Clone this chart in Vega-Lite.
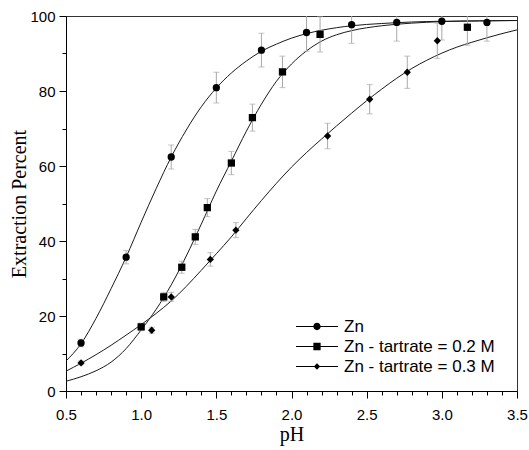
{
  "$schema": "https://vega.github.io/schema/vega-lite/v6.json",
  "width": 451,
  "height": 375,
  "autosize": {"type": "none"},
  "padding": {"left": 66, "top": 16, "right": 12, "bottom": 59},
  "background": "white",
  "config": {
    "view": {"stroke": "#333333", "strokeWidth": 1},
    "axis": {"grid": false, "domainColor": "black", "tickColor": "black", "domainWidth": 1, "tickWidth": 1,
      "labelFont": "Liberation Sans", "labelFontSize": 15, "labelColor": "black",
      "titleFont": "Liberation Serif", "titleFontSize": 20, "titleFontWeight": "normal", "titleColor": "black",
      "labelOverlap": false, "labelFlush": false}
  },
  "datasets": {
    "fit": [
      {"series": "Zn", "x": 0.5, "y": 8.0}, {"series": "Zn", "x": 0.6, "y": 12.6}, {"series": "Zn", "x": 0.7, "y": 19.4},
      {"series": "Zn", "x": 0.8, "y": 27.3}, {"series": "Zn", "x": 0.9, "y": 35.7}, {"series": "Zn", "x": 1.0, "y": 45.0},
      {"series": "Zn", "x": 1.1, "y": 54.0}, {"series": "Zn", "x": 1.2, "y": 62.4}, {"series": "Zn", "x": 1.3, "y": 69.6},
      {"series": "Zn", "x": 1.4, "y": 75.8}, {"series": "Zn", "x": 1.5, "y": 80.8}, {"series": "Zn", "x": 1.6, "y": 84.8},
      {"series": "Zn", "x": 1.7, "y": 88.0}, {"series": "Zn", "x": 1.8, "y": 90.6}, {"series": "Zn", "x": 1.9, "y": 92.5},
      {"series": "Zn", "x": 2.0, "y": 94.1}, {"series": "Zn", "x": 2.1, "y": 95.3}, {"series": "Zn", "x": 2.2, "y": 96.2},
      {"series": "Zn", "x": 2.4, "y": 97.4}, {"series": "Zn", "x": 2.6, "y": 98.0}, {"series": "Zn", "x": 2.8, "y": 98.4},
      {"series": "Zn", "x": 3.0, "y": 98.6}, {"series": "Zn", "x": 3.25, "y": 98.7}, {"series": "Zn", "x": 3.5, "y": 98.8},

      {"series": "Zn - tartrate = 0.2 M", "x": 0.5, "y": 2.6}, {"series": "Zn - tartrate = 0.2 M", "x": 0.6, "y": 3.8},
      {"series": "Zn - tartrate = 0.2 M", "x": 0.7, "y": 5.4}, {"series": "Zn - tartrate = 0.2 M", "x": 0.8, "y": 7.7},
      {"series": "Zn - tartrate = 0.2 M", "x": 0.9, "y": 11.3}, {"series": "Zn - tartrate = 0.2 M", "x": 1.0, "y": 16.3},
      {"series": "Zn - tartrate = 0.2 M", "x": 1.1, "y": 21.8}, {"series": "Zn - tartrate = 0.2 M", "x": 1.2, "y": 28.3},
      {"series": "Zn - tartrate = 0.2 M", "x": 1.3, "y": 36.0}, {"series": "Zn - tartrate = 0.2 M", "x": 1.4, "y": 44.5},
      {"series": "Zn - tartrate = 0.2 M", "x": 1.5, "y": 53.3}, {"series": "Zn - tartrate = 0.2 M", "x": 1.6, "y": 61.3},
      {"series": "Zn - tartrate = 0.2 M", "x": 1.7, "y": 69.3}, {"series": "Zn - tartrate = 0.2 M", "x": 1.8, "y": 76.5},
      {"series": "Zn - tartrate = 0.2 M", "x": 1.9, "y": 82.6}, {"series": "Zn - tartrate = 0.2 M", "x": 2.0, "y": 87.2},
      {"series": "Zn - tartrate = 0.2 M", "x": 2.1, "y": 90.7}, {"series": "Zn - tartrate = 0.2 M", "x": 2.2, "y": 93.3},
      {"series": "Zn - tartrate = 0.2 M", "x": 2.3, "y": 95.0}, {"series": "Zn - tartrate = 0.2 M", "x": 2.4, "y": 96.1},
      {"series": "Zn - tartrate = 0.2 M", "x": 2.6, "y": 97.4}, {"series": "Zn - tartrate = 0.2 M", "x": 2.8, "y": 98.1},
      {"series": "Zn - tartrate = 0.2 M", "x": 3.0, "y": 98.5}, {"series": "Zn - tartrate = 0.2 M", "x": 3.25, "y": 98.7},
      {"series": "Zn - tartrate = 0.2 M", "x": 3.5, "y": 98.8},

      {"series": "Zn - tartrate = 0.3 M", "x": 0.5, "y": 5.3}, {"series": "Zn - tartrate = 0.3 M", "x": 0.6, "y": 7.4},
      {"series": "Zn - tartrate = 0.3 M", "x": 0.7, "y": 9.7}, {"series": "Zn - tartrate = 0.3 M", "x": 0.8, "y": 12.2},
      {"series": "Zn - tartrate = 0.3 M", "x": 0.9, "y": 14.9}, {"series": "Zn - tartrate = 0.3 M", "x": 1.0, "y": 17.7},
      {"series": "Zn - tartrate = 0.3 M", "x": 1.1, "y": 20.7}, {"series": "Zn - tartrate = 0.3 M", "x": 1.2, "y": 24.0},
      {"series": "Zn - tartrate = 0.3 M", "x": 1.3, "y": 27.9}, {"series": "Zn - tartrate = 0.3 M", "x": 1.4, "y": 32.2},
      {"series": "Zn - tartrate = 0.3 M", "x": 1.5, "y": 36.6}, {"series": "Zn - tartrate = 0.3 M", "x": 1.6, "y": 41.1},
      {"series": "Zn - tartrate = 0.3 M", "x": 1.7, "y": 46.0}, {"series": "Zn - tartrate = 0.3 M", "x": 1.8, "y": 50.8},
      {"series": "Zn - tartrate = 0.3 M", "x": 1.9, "y": 55.4}, {"series": "Zn - tartrate = 0.3 M", "x": 2.0, "y": 59.7},
      {"series": "Zn - tartrate = 0.3 M", "x": 2.1, "y": 63.6}, {"series": "Zn - tartrate = 0.3 M", "x": 2.2, "y": 67.2},
      {"series": "Zn - tartrate = 0.3 M", "x": 2.3, "y": 70.7}, {"series": "Zn - tartrate = 0.3 M", "x": 2.4, "y": 74.1},
      {"series": "Zn - tartrate = 0.3 M", "x": 2.5, "y": 77.4}, {"series": "Zn - tartrate = 0.3 M", "x": 2.6, "y": 80.5},
      {"series": "Zn - tartrate = 0.3 M", "x": 2.7, "y": 83.4}, {"series": "Zn - tartrate = 0.3 M", "x": 2.8, "y": 86.0},
      {"series": "Zn - tartrate = 0.3 M", "x": 2.9, "y": 88.2}, {"series": "Zn - tartrate = 0.3 M", "x": 3.0, "y": 90.1},
      {"series": "Zn - tartrate = 0.3 M", "x": 3.1, "y": 91.7}, {"series": "Zn - tartrate = 0.3 M", "x": 3.2, "y": 93.0},
      {"series": "Zn - tartrate = 0.3 M", "x": 3.3, "y": 94.2}, {"series": "Zn - tartrate = 0.3 M", "x": 3.4, "y": 95.3},
      {"series": "Zn - tartrate = 0.3 M", "x": 3.5, "y": 96.3}
    ],
    "obs": [
      {"series": "Zn", "x": 0.6, "y": 12.8, "lo": 11.8, "hi": 13.8},
      {"series": "Zn", "x": 0.9, "y": 35.7, "lo": 33.9, "hi": 37.5},
      {"series": "Zn", "x": 1.2, "y": 62.4, "lo": 59.2, "hi": 65.6},
      {"series": "Zn", "x": 1.5, "y": 80.9, "lo": 76.8, "hi": 85.0},
      {"series": "Zn", "x": 1.8, "y": 90.9, "lo": 86.4, "hi": 95.4},
      {"series": "Zn", "x": 2.1, "y": 95.6, "lo": 90.6, "hi": 100.6},
      {"series": "Zn", "x": 2.4, "y": 97.7, "lo": 92.7, "hi": 102.7},
      {"series": "Zn", "x": 2.7, "y": 98.3, "lo": 93.3, "hi": 103.3},
      {"series": "Zn", "x": 3.0, "y": 98.6, "lo": 93.6, "hi": 103.6},
      {"series": "Zn", "x": 3.3, "y": 98.3, "lo": 93.3, "hi": 103.3},
      {"series": "Zn - tartrate = 0.2 M", "x": 1.0, "y": 17.1, "lo": 16.1, "hi": 18.1},
      {"series": "Zn - tartrate = 0.2 M", "x": 1.15, "y": 25.1, "lo": 23.9, "hi": 26.3},
      {"series": "Zn - tartrate = 0.2 M", "x": 1.27, "y": 33.0, "lo": 31.4, "hi": 34.6},
      {"series": "Zn - tartrate = 0.2 M", "x": 1.36, "y": 41.1, "lo": 39.1, "hi": 43.1},
      {"series": "Zn - tartrate = 0.2 M", "x": 1.44, "y": 48.9, "lo": 46.5, "hi": 51.3},
      {"series": "Zn - tartrate = 0.2 M", "x": 1.6, "y": 60.8, "lo": 57.7, "hi": 63.9},
      {"series": "Zn - tartrate = 0.2 M", "x": 1.74, "y": 72.9, "lo": 69.3, "hi": 76.5},
      {"series": "Zn - tartrate = 0.2 M", "x": 1.94, "y": 85.1, "lo": 80.9, "hi": 89.3},
      {"series": "Zn - tartrate = 0.2 M", "x": 2.19, "y": 95.1, "lo": 90.4, "hi": 99.8},
      {"series": "Zn - tartrate = 0.2 M", "x": 3.17, "y": 97.0, "lo": 92.2, "hi": 101.8},
      {"series": "Zn - tartrate = 0.3 M", "x": 0.6, "y": 7.5, "lo": 7.0, "hi": 8.0},
      {"series": "Zn - tartrate = 0.3 M", "x": 1.07, "y": 16.2, "lo": 15.4, "hi": 17.0},
      {"series": "Zn - tartrate = 0.3 M", "x": 1.2, "y": 25.1, "lo": 23.9, "hi": 26.3},
      {"series": "Zn - tartrate = 0.3 M", "x": 1.46, "y": 35.1, "lo": 33.3, "hi": 36.9},
      {"series": "Zn - tartrate = 0.3 M", "x": 1.63, "y": 42.9, "lo": 40.9, "hi": 44.9},
      {"series": "Zn - tartrate = 0.3 M", "x": 2.24, "y": 68.0, "lo": 64.6, "hi": 71.4},
      {"series": "Zn - tartrate = 0.3 M", "x": 2.52, "y": 77.8, "lo": 73.9, "hi": 81.7},
      {"series": "Zn - tartrate = 0.3 M", "x": 2.77, "y": 85.0, "lo": 80.7, "hi": 89.3},
      {"series": "Zn - tartrate = 0.3 M", "x": 2.97, "y": 93.4, "lo": 88.7, "hi": 98.1}
    ]
  },
  "layer": [
    {
      "data": {"values": []},
      "mark": {"type": "point", "opacity": 0},
      "encoding": {
        "x": {"field": "x", "type": "quantitative",
          "scale": {"domain": [0.5, 3.5], "nice": false, "zero": false},
          "axis": {"orient": "bottom", "title": null, "labels": false, "domain": false, "tickSize": 4,
            "values": [0.6, 0.7, 0.8, 0.9, 1.1, 1.2, 1.3, 1.4, 1.6, 1.7, 1.8, 1.9, 2.1, 2.2, 2.3, 2.4, 2.6, 2.7, 2.8, 2.9, 3.1, 3.2, 3.3, 3.4]}},
        "y": {"field": "y", "type": "quantitative",
          "scale": {"domain": [0, 100], "nice": false, "zero": false},
          "axis": {"orient": "left", "title": null, "labels": false, "domain": false, "tickSize": 4,
            "values": [10, 30, 50, 70, 90]}}
      }
    },
    {
      "layer": [
        {
          "data": {"name": "fit"},
          "mark": {"type": "line", "interpolate": "monotone", "color": "#1a1a1a", "strokeWidth": 1, "clip": true},
          "encoding": {
            "x": {"field": "x", "type": "quantitative", "title": "pH",
              "scale": {"domain": [0.5, 3.5], "nice": false, "zero": false},
              "axis": {"orient": "bottom", "values": [0.5, 1, 1.5, 2, 2.5, 3, 3.5],
                "tickSize": 7, "labelPadding": 9, "titleBaseline": "alphabetic", "titleY": 49}},
            "y": {"field": "y", "type": "quantitative", "title": "Extraction Percent",
              "scale": {"domain": [0, 100], "nice": false, "zero": false},
              "axis": {"orient": "left", "values": [0, 20, 40, 60, 80, 100],
                "tickSize": 7, "labelPadding": 4, "titlePadding": 0}},
            "detail": {"field": "series", "type": "nominal"}
          }
        },
        {
          "data": {"name": "obs"},
          "mark": {"type": "errorbar", "ticks": {"size": 6, "color": "#a8a8a8"}, "color": "#a8a8a8", "clip": true},
          "encoding": {
            "x": {"field": "x", "type": "quantitative", "title": "pH"},
            "y": {"field": "lo", "type": "quantitative", "title": "Extraction Percent"},
            "y2": {"field": "hi"}
          }
        },
        {
          "data": {"name": "obs"},
          "mark": {"type": "point", "filled": true, "fill": "black", "opacity": 1, "strokeWidth": 0},
          "encoding": {
            "x": {"field": "x", "type": "quantitative", "title": "pH"},
            "y": {"field": "y", "type": "quantitative", "title": "Extraction Percent"},
            "shape": {"field": "series", "type": "nominal",
              "scale": {"domain": ["Zn", "Zn - tartrate = 0.2 M", "Zn - tartrate = 0.3 M"], "range": ["circle", "square", "diamond"]},
              "legend": null},
            "size": {"field": "series", "type": "nominal",
              "scale": {"domain": ["Zn", "Zn - tartrate = 0.2 M", "Zn - tartrate = 0.3 M"], "range": [53, 53, 45]},
              "legend": null}
          }
        },
        {
          "data": {"values": []},
          "mark": {"type": "point", "filled": true, "fill": "black", "opacity": 1},
          "encoding": {
            "x": {"field": "x", "type": "quantitative", "title": "pH"},
            "y": {"field": "y", "type": "quantitative", "title": "Extraction Percent"},
            "shape": {"field": "series", "type": "nominal",
              "scale": {"domain": ["Zn", "Zn - tartrate = 0.2 M", "Zn - tartrate = 0.3 M"],
                "range": [
                  "M-3,-0.072H-0.5V0.072H-3ZM0.5,-0.072H3V0.072H0.5ZM-0.52,0A0.52,0.52,0,1,1,0.52,0A0.52,0.52,0,1,1,-0.52,0Z",
                  "M-3,-0.072H-0.5V0.072H-3ZM0.5,-0.072H3V0.072H0.5ZM-0.52,-0.52H0.52V0.52H-0.52Z",
                  "M-3,-0.072H-0.4V0.072H-3ZM0.4,-0.072H3V0.072H0.4ZM-0.45,0L0,-0.45L0.45,0L0,0.45Z"
                ]},
              "legend": {"orient": "none", "legendX": 242.5, "legendY": 302, "title": null,
                "symbolSize": 196, "symbolStrokeWidth": 0, "labelOffset": 18.5,
                "symbolFillColor": "black",
                "labelFont": "Liberation Sans", "labelFontSize": 17, "labelColor": "black", "labelLimit": 300,
                "rowPadding": 2, "padding": 0, "symbolOpacity": 1}}
          }
        }
      ],
      "resolve": {"scale": {"shape": "independent", "size": "independent"}}
    }
  ],
  "resolve": {"scale": {"x": "independent", "y": "independent"}}
}
